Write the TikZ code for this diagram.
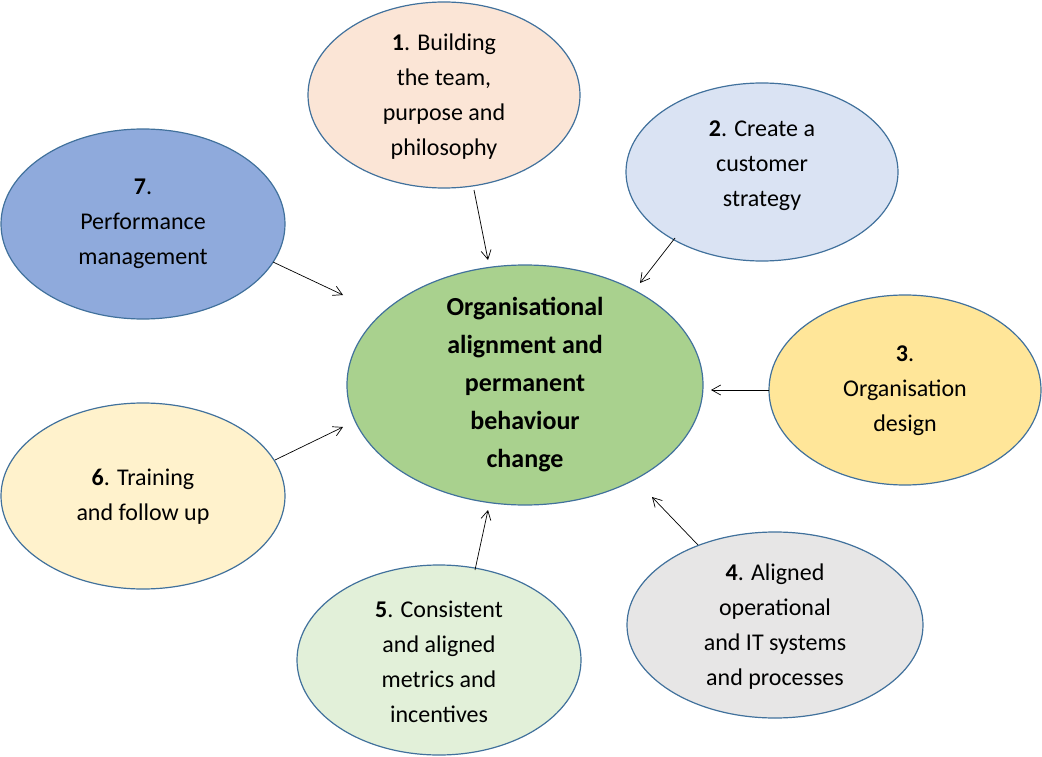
\documentclass[tikz,border=0pt]{standalone}
\usepackage{fontspec}
\setmainfont{Carlito}
\usetikzlibrary{shapes.geometric,arrows.meta}
\definecolor{bord}{HTML}{41719C}
\definecolor{cc}{HTML}{A9D18E}
\definecolor{c1}{RGB}{251,229,214}
\definecolor{c2}{RGB}{218,227,243}
\definecolor{c7}{RGB}{143,170,220}
\definecolor{c3}{RGB}{255,230,153}
\definecolor{c6}{RGB}{255,242,204}
\definecolor{c5}{RGB}{226,240,217}
\definecolor{c4}{RGB}{231,230,230}
\tikzset{
  ell/.style={ellipse,draw=bord,line width=1.2pt,inner sep=0pt},
  lbl/.style={align=center,font=\fontsize{24}{35}\selectfont},
  arr/.style={-{Straight Barb[length=9pt,width=10pt]},line width=0.7pt,black}
}
\begin{document}
\begin{tikzpicture}[x=1pt,y=-1pt]
\useasboundingbox (0,0) rectangle (1042,757);
\node[ell,fill=cc,minimum width=356,minimum height=240] (c) at (525,385) {};
\node[align=center,font=\bfseries\fontsize{26}{38}\selectfont] at (525,385) {Organisational\\alignment and\\permanent\\behaviour\\change};
\node[ell,fill=c1,minimum width=272,minimum height=186] (n1) at (444,95) {};
\node[lbl] at (444,97) {\textbf{1}. Building\\the team,\\purpose and\\philosophy};
\node[ell,fill=c2,minimum width=272,minimum height=178] (n2) at (762,172) {};
\node[lbl] at (762,166) {\textbf{2}. Create a\\customer\\strategy};
\node[ell,fill=c7,minimum width=284,minimum height=190] (n7) at (143,224) {};
\node[lbl] at (143,224) {\textbf{7}.\\Performance\\management};
\node[ell,fill=c3,minimum width=272,minimum height=190] (n3) at (905,390) {};
\node[lbl] at (905,391) {\textbf{3}.\\Organisation\\design};
\node[ell,fill=c6,minimum width=284,minimum height=186] (n6) at (143,496) {};
\node[lbl] at (143,497) {\textbf{6}. Training\\and follow up};
\node[ell,fill=c5,minimum width=284,minimum height=190] (n5) at (439,660) {};
\node[lbl] at (439,662) {\textbf{5}. Consistent\\and aligned\\metrics and\\incentives};
\node[ell,fill=c4,minimum width=296,minimum height=186] (n4) at (775,625) {};
\node[lbl] at (775,627) {\textbf{4}. Aligned\\operational\\and IT systems\\and processes};
\coordinate (a1) at (474,190); \coordinate (b1) at (488,260);
\coordinate (a2) at (675,238); \coordinate (b2) at (640,283);
\coordinate (a7) at (273,262); \coordinate (b7) at (343,295);
\coordinate (a3) at (769,390); \coordinate (b3) at (711,390);
\coordinate (a6) at (275,460); \coordinate (b6) at (343,427);
\coordinate (a5) at (475,570); \coordinate (b5) at (488,510);
\coordinate (a4) at (698,545); \coordinate (b4) at (652,497);
\foreach \i in {1,...,7} \draw[arr] (a\i) -- (b\i);
\end{tikzpicture}
\end{document}
